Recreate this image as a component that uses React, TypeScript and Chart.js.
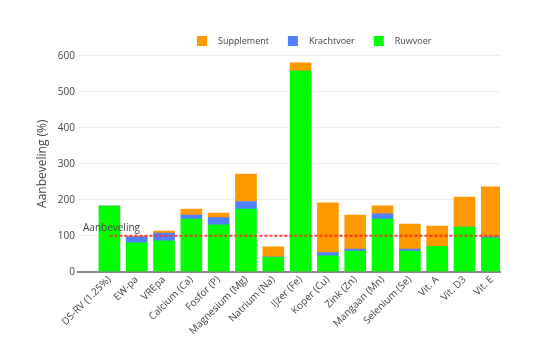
import React, { useEffect, useRef } from "react";
import { Chart, registerables } from "chart.js";

Chart.register(...registerables);

const categories = [
  "DS-RV (1.25%)", "EW-pa", "VREpa", "Calcium (Ca)", "Fosfor (P)", "Magnesium (Mg)",
  "Natrium (Na)", "IJzer (Fe)", "Koper (Cu)", "Zink (Zn)", "Mangaan (Mn)",
  "Selenium (Se)", "Vit. A", "Vit. D3", "Vit. E",
];
const ruwvoer = [182, 80, 86, 146, 130, 174, 40, 557, 44, 57, 146, 57, 70, 124, 94];
const krachtvoer = [0, 17, 21, 11, 20, 21, 1.5, 0, 9, 6, 15, 6, 0, 0, 3];
const supplement = [0, 2, 6, 17, 13, 76, 27.5, 23, 138, 94, 22, 69, 57, 83, 139];
const aanbeveling = 100;
const yTicks = [0, 100, 200, 300, 400, 500, 600];

const FONT = '"Open Sans", sans-serif';
const TEXT = "#444";

const legendPlugin = {
  id: "customLegend",
  afterDraw(chart: any) {
    const ctx = chart.ctx;
    ctx.save();
    ctx.font = `9px ${FONT}`;
    ctx.textBaseline = "middle";
    let x = 197;
    const y = 41;
    [2, 1, 0].forEach((i) => {
      const ds = chart.data.datasets[i];
      ctx.fillStyle = ds.backgroundColor;
      ctx.fillRect(x, y - 5, 10, 10);
      ctx.fillStyle = TEXT;
      ctx.fillText(ds.label, x + 21, y);
      x += 21 + ctx.measureText(ds.label).width + 19;
    });
    ctx.restore();
  },
};

const annotationPlugin = {
  id: "recLabel",
  afterDatasetsDraw(chart: any) {
    const ctx = chart.ctx;
    const yPx = chart.scales.y.getPixelForValue(aanbeveling);
    ctx.save();
    ctx.font = `10px ${FONT}`;
    ctx.fillStyle = TEXT;
    ctx.textBaseline = "middle";
    ctx.textAlign = "left";
    ctx.fillText("Aanbeveling", chart.chartArea.left + 5, yPx - 8);
    ctx.restore();
  },
};

export default function App() {
  const ref = useRef<HTMLCanvasElement>(null);
  useEffect(() => {
    const toXY = (arr: number[]) => arr.map((v, i) => ({ x: i, y: v }));
    const chart = new Chart(ref.current!, {
      type: "bar",
      data: {
        datasets: [
          { label: "Ruwvoer", data: toXY(ruwvoer), backgroundColor: "#00ff00", barThickness: 21, stack: "s", order: 1 } as any,
          { label: "Krachtvoer", data: toXY(krachtvoer), backgroundColor: "#4f81ff", barThickness: 21, stack: "s", order: 1 } as any,
          { label: "Supplement", data: toXY(supplement), backgroundColor: "#ff9900", barThickness: 21, stack: "s", order: 1 } as any,
          {
            type: "line",
            label: "Aanbeveling",
            data: [{ x: 0, y: aanbeveling }, { x: categories.length, y: aanbeveling }],
            borderColor: "rgba(255,40,40,0.9)",
            borderWidth: 2,
            borderDash: [3, 2],
            pointRadius: 0,
            stack: "rec",
            order: 0,
          } as any,
        ],
      },
      options: {
        animation: false,
        responsive: true,
        maintainAspectRatio: false,
        layout: { autoPadding: false, padding: { left: 31, right: 51, top: 55.7, bottom: 0 } },
        plugins: { legend: { display: false }, tooltip: { enabled: false } },
        scales: {
          x: {
            type: "linear",
            stacked: true,
            offset: false,
            min: -1.15,
            max: 14.3,
            afterBuildTicks: (s: any) => {
              s.ticks = categories.map((_, i) => ({ value: i }));
            },
            afterFit: (s: any) => {
              s.height = 79.3;
            },
            ticks: {
              minRotation: 45,
              maxRotation: 45,
              autoSkip: false,
              color: TEXT,
              font: { family: FONT, size: 10 },
              padding: 2,
              callback: (v: any) => categories[v as number] ?? "",
            },
            grid: { display: false, drawTicks: false, offset: false },
            border: { display: true, color: "#888", width: 2 },
          },
          y: {
            stacked: true,
            min: 0,
            max: 600,
            afterBuildTicks: (s: any) => {
              s.ticks = yTicks.map((v) => ({ value: v }));
            },
            afterFit: (s: any) => {
              s.width = 47;
            },
            title: {
              display: true,
              text: "Aanbeveling (%)",
              color: TEXT,
              font: { family: FONT, size: 12 },
            },
            ticks: { color: TEXT, font: { family: FONT, size: 10 }, padding: 3 },
            grid: { color: "#eeeeee", drawTicks: false },
            border: { display: false },
          },
        },
      } as any,
      plugins: [legendPlugin, annotationPlugin],
    });
    return () => chart.destroy();
  }, []);
  return (
    <div style={{ position: "fixed", left: 0, top: 0, width: 551, height: 351, background: "#fff" }}>
      <canvas ref={ref} />
    </div>
  );
}
